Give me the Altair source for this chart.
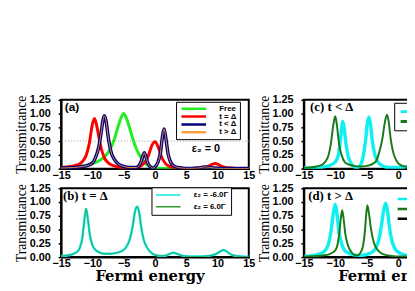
import altair as alt
import pandas as pd

# ---------------- data ----------------
XTICKS = [-15, -10, -5, 0, 5, 10, 15]
YTICKS = [0.0, 0.25, 0.5, 0.75, 1.0, 1.25]

# panel (a)
a_free_x = [-15, -13, -12, -11, -10, -9, -8, -7.5, -7, -6.5, -6, -5.5, -5,
            -4.5, -4, -3.5, -3, -2.5, -2, -1.5, -1, -0.5, 0,
            1, 2, 4, 6, 8, 10, 12, 15]
a_free_y = [0.02, 0.035, 0.045, 0.06, 0.09, 0.14, 0.22, 0.29, 0.39, 0.53, 0.72, 0.9, 1.0,
            0.9, 0.72, 0.53, 0.37, 0.25, 0.16, 0.09, 0.05, 0.025, 0.012,
            0.004, 0.002, 0.001, 0.001, 0.001, 0.001, 0.001, 0.001]

a_red_x = [-15, -14, -13, -12, -11.5, -11, -10.5, -10, -9.65, -9.25,
           -9, -8.5, -8, -7.5, -7, -6, -5, -4, -3, -2,
           -1.5, -1, -0.5, 0, 0.5, 1, 1.5, 2, 3, 4,
           5, 6, 7, 8, 8.5, 9, 9.65, 10.2, 10.7, 11.5,
           13, 15]
a_red_y = [0.02, 0.03, 0.05, 0.09, 0.14, 0.24, 0.45, 0.8, 0.91, 0.75,
           0.6, 0.33, 0.18, 0.11, 0.07, 0.035, 0.015, 0.005, 0.02, 0.07,
           0.13, 0.25, 0.42, 0.49, 0.4, 0.23, 0.12, 0.06, 0.02, 0.005,
           0.002, 0.005, 0.01, 0.025, 0.04, 0.07, 0.095, 0.07, 0.04, 0.015,
           0.005, 0.002]

a_blue_x = [-15, -13, -12, -11, -10, -9.5, -9, -8.6, -8.3, -8.08,
            -7.8, -7.5, -7, -6.5, -6, -5, -4, -3, -2.5, -2.2,
            -1.9, -1.7, -1.45, -1.2, -0.8, -0.4, 0, 0.5, 0.9, 1.2,
            1.47, 1.75, 2.1, 2.5, 3, 4, 5, 6, 7, 7.6,
            8.1, 8.6, 9.5, 11, 15]
a_blue_y = [0.01, 0.02, 0.03, 0.05, 0.1, 0.2, 0.38, 0.65, 0.88, 0.96,
            0.86, 0.6, 0.3, 0.17, 0.1, 0.04, 0.02, 0.02, 0.06, 0.13,
            0.24, 0.29, 0.22, 0.12, 0.04, 0.01, 0.03, 0.12, 0.3, 0.58,
            0.72, 0.55, 0.27, 0.12, 0.05, 0.015, 0.005, 0.005, 0.012, 0.025,
            0.032, 0.025, 0.01, 0.003, 0.001]
a_ref_y = [0.5]

# panel (b)
b_x = [-15, -14, -13, -12.5, -12, -11.6, -11.3, -11, -10.7, -10.4,
       -10, -9.5, -9, -8, -7, -6, -5, -4.5, -4, -3.5,
       -3.2, -2.85, -2.5, -2.2, -1.8, -1.2, -0.5, 0, 1, 1.8,
       2.4, 2.95, 3.5, 4.2, 5, 6, 7, 8, 9, 9.8,
       10.4, 11, 11.6, 12.3, 13, 14, 15]
b_y = [0.02, 0.03, 0.06, 0.09, 0.17, 0.35, 0.65, 0.88, 0.68, 0.4,
       0.22, 0.13, 0.09, 0.06, 0.06, 0.08, 0.13, 0.2, 0.33, 0.6,
       0.82, 0.92, 0.8, 0.55, 0.32, 0.16, 0.07, 0.04, 0.02, 0.03,
       0.06, 0.08, 0.06, 0.03, 0.015, 0.01, 0.01, 0.015, 0.03, 0.06,
       0.1, 0.13, 0.09, 0.04, 0.02, 0.01, 0.005]

# panel (c)
c_cyan_x = [-15, -13, -12, -11, -10, -9.5, -9.2, -9, -8.82, -8.6,
            -8.3, -8, -7.5, -7, -6.5, -6, -5.6, -5.2, -4.9, -4.67,
            -4.4, -4.1, -3.7, -3.2, -2.5, -2, -1, 0, 1, 2,
            4, 8, 15]
c_cyan_y = [0.01, 0.02, 0.03, 0.05, 0.12, 0.25, 0.5, 0.72, 0.86, 0.75,
            0.45, 0.25, 0.1, 0.03, 0.02, 0.06, 0.2, 0.5, 0.82, 0.94,
            0.8, 0.5, 0.25, 0.12, 0.05, 0.03, 0.02, 0.02, 0.03, 0.05,
            0.03, 0.02, 0.01]
c_green_x = [-15, -14, -13, -12, -11.2, -10.7, -10.3, -10, -9.75, -9.4,
             -9, -8.5, -8, -7, -6, -5, -4, -3.5, -3, -2.5,
             -2.1, -1.77, -1.5, -1.2, -0.8, -0.3, 0, 0.5, 1, 2,
             4, 8, 15]
c_green_y = [0.01, 0.02, 0.04, 0.08, 0.2, 0.45, 0.8, 0.95, 0.8, 0.45,
             0.25, 0.12, 0.08, 0.05, 0.04, 0.05, 0.09, 0.14, 0.3, 0.55,
             0.85, 0.98, 0.85, 0.55, 0.3, 0.15, 0.1, 0.06, 0.04, 0.02,
             0.01, 0.005, 0.002]

# panel (d)
d_cyan_x = [-15, -14, -13, -12, -11.2, -10.7, -10.3, -10, -9.75, -9.4,
            -9, -8.5, -8, -7, -6, -5, -4, -3.5, -3, -2.7,
            -2.3, -2.0, -1.7, -1.4, -1, -0.5, 0, 0.5, 1, 2,
            4, 8, 15]
d_cyan_y = [0.01, 0.02, 0.04, 0.08, 0.2, 0.45, 0.8, 0.96, 0.8, 0.45,
            0.25, 0.12, 0.08, 0.04, 0.03, 0.05, 0.1, 0.18, 0.35, 0.55,
            0.85, 0.98, 0.85, 0.55, 0.3, 0.15, 0.09, 0.06, 0.04, 0.02,
            0.01, 0.005, 0.002]
d_green_x = [-15, -13, -12, -11, -10, -9.6, -9.3, -9.1, -8.9, -8.7,
             -8.4, -8, -7.5, -7, -6.5, -6, -5.6, -5.3, -5.1, -4.9,
             -4.65, -4.3, -3.9, -3.4, -2.8, -2, -1, 0, 1, 2,
             4, 8, 15]
d_green_y = [0.01, 0.02, 0.03, 0.05, 0.12, 0.25, 0.5, 0.72, 0.85, 0.72,
             0.42, 0.22, 0.1, 0.04, 0.03, 0.08, 0.2, 0.45, 0.75, 0.94,
             0.8, 0.5, 0.28, 0.15, 0.08, 0.04, 0.02, 0.01, 0.01, 0.01,
             0.005, 0.003, 0.001]

a_names = ["Free", "t = Δ", "t < Δ", "t > Δ"]
a_colors = ["#22ee22", "#ff0000", "#000080", "#ffa040"]
a_widths = [3, 3, 3.5, 0.9]
b_names = ["ε₂ = -6.0Γ", "ε₂ =  6.0Γ"]
b_colors = ["#11e8e8", "#339933"]
b_widths = [2.5, 0.8]
c_names = ["ε₂ = -6.0Γ", "ε₂ =  6.0Γ"]
c_colors = ["#11f0f0", "#1a7a1a"]
c_widths = [3.5, 2]
d_names = ["ε₂ = -6.0Γ", "ε₂ =  6.0Γ", "Free"]
d_colors = ["#11f0f0", "#1a7a1a", "#000000"]
d_widths = [3.5, 2, 1.5]

# annotations: (x, y, text) in data units
a_notes = [(-14.4, 1.12, "(a)"), (5.9, 0.36, "ε₂ = 0")]
b_notes = [(-14.7, 1.1, "(b)  t = Δ")]
c_notes = [(-14.0, 1.12, "(c)  t < Δ")]
d_notes = [(-14.3, 1.1, "(d)  t > Δ")]

LINE_SYMBOL = "M-5,0L5,0"


def sdf(xs, ys, name):
    return pd.DataFrame({"x": xs, "y": ys, "series": name})


def panel(series, names, colors, widths, leg_kw, notes, note_font, note_size,
          xtitle, width, ref=None):
    xaxis = dict(values=XTICKS, format="d", labelFlush=False)
    if xtitle:
        xaxis.update(title=xtitle, titleFont="DejaVu Serif", titleFontSize=15,
                     titleFontWeight="bold", titleX=90, titleY=12, titleBaseline="top")
    else:
        xaxis.update(title=None)
    x = alt.X("x:Q", scale=alt.Scale(domain=[-15, 15], nice=False, zero=False),
              axis=alt.Axis(**xaxis))
    y = alt.Y("y:Q", scale=alt.Scale(domain=[0, 1.25], nice=False),
              axis=alt.Axis(values=YTICKS, format=".2f", title="Transmittance",
                            titleFont="Liberation Serif", titleFontSize=14,
                            titleFontWeight="normal", titlePadding=1))
    cs = alt.Scale(domain=names, range=colors)
    leg = alt.Legend(**leg_kw)
    layers = []
    if ref is not None:
        layers.append(alt.Chart(pd.DataFrame({"y": ref})).mark_rule(
            color="#999999", strokeDash=[1, 2], strokeWidth=1).encode(y=y))
    for i, df in enumerate(series):
        layers.append(alt.Chart(df).mark_line(interpolate="monotone", clip=True,
                                              strokeWidth=widths[i]).encode(
            x=x, y=y, color=alt.Color("series:N", scale=cs, legend=leg)))
    for i, (nx, ny, nt) in enumerate(notes):
        layers.append(alt.Chart(pd.DataFrame({"x": [nx], "y": [ny], "t": [nt]})).mark_text(
            align="left", baseline="middle", font=note_font[i], fontSize=note_size[i],
            fontWeight="bold", color="black").encode(x=x, y=y, text="t:N"))
    return alt.layer(*layers).properties(width=width, height=70)


leg_common = dict(orient="none", title=None, symbolType=LINE_SYMBOL, symbolSize=25,
                  symbolOffset=11, labelOffset=22,
                  labelFont="Liberation Sans", labelFontWeight="bold",
                  labelColor="black", labelFontSize=8, labelLimit=200)

pa = panel([sdf(a_free_x, a_free_y, a_names[0]), sdf(a_red_x, a_red_y, a_names[1]),
            sdf(a_blue_x, a_blue_y, a_names[2]), sdf(a_blue_x, a_blue_y, a_names[3])],
           a_names, a_colors, a_widths,
           dict(leg_common, legendX=117, legendY=2, rowPadding=0, clipHeight=8,
                symbolStrokeWidth=2.5,
                padding=3, strokeColor="black", fillColor="white"),
           a_notes, ["Liberation Sans", "Liberation Sans"], [12, 11], None, 191, ref=a_ref_y)

pb = panel([sdf(b_x, b_y, b_names[0]), sdf(b_x, b_y, b_names[1])],
           b_names, b_colors, b_widths,
           dict(leg_common, legendX=92, legendY=-1, rowPadding=0, clipHeight=11.5,
                symbolStrokeWidth=1.5,
                padding=2, strokeColor="black", fillColor="white"),
           b_notes, ["Liberation Serif"], [13], "Fermi energy", 191)

pc = panel([sdf(c_cyan_x, c_cyan_y, c_names[0]), sdf(c_green_x, c_green_y, c_names[1])],
           c_names, c_colors, c_widths,
           dict(leg_common, legendX=92, legendY=3, rowPadding=0, clipHeight=10,
                symbolStrokeWidth=3,
                padding=4, strokeColor="black", fillColor="white"),
           c_notes, ["Liberation Serif"], [13], None, 192)

pd_ = panel([sdf(d_cyan_x, d_cyan_y, d_names[0]), sdf(d_green_x, d_green_y, d_names[1])],
            d_names, d_colors, d_widths,
            dict(leg_common, legendX=93, legendY=6, rowPadding=0, clipHeight=10, padding=0,
                 symbolStrokeWidth=2.5),
            d_notes, ["Liberation Serif"], [13], "Fermi energy", 192)

chart = alt.concat(pa, pc, pb, pd_, columns=2, spacing={"row": 20, "column": 56}).resolve_scale(
    color="independent"
).properties(
    bounds="flush",
    padding={"left": 5, "top": 84, "right": -95, "bottom": 0},
).configure_view(
    stroke="black", strokeWidth=2
).configure_axis(
    grid=False, domainColor="black", domainWidth=2, tickColor="black", tickWidth=1.5,
    tickSize=3, labelFont="Liberation Sans", labelFontWeight="bold", labelFontSize=11,
    labelColor="black", titleColor="black"
).configure_axisX(labelPadding=0, tickSize=1).configure_axisY(labelPadding=8)

chart.save("out.html", embed_options={"renderer": "svg", "actions": False})
